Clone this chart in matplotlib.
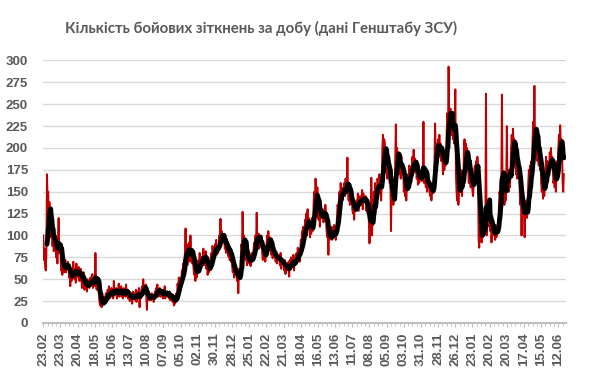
import pandas as pd
import matplotlib
matplotlib.use("Agg")
import matplotlib.pyplot as plt
import matplotlib.dates as mdates

# daily number of combat clashes (General Staff reports), from 23.02.2023
start_date = "2023-02-23"

clashes_2023 = [
    100, 72, 85, 65, 60, 78, 170, 140, 150, 112, 138, 105, 98, 115,
    105, 88, 104, 82, 96, 85, 100, 75, 92, 68, 98, 120, 80, 85,
    82, 60, 70, 55, 72, 64, 58, 68, 72, 58, 66, 62, 70, 64,
    52, 60, 42, 58, 48, 55, 62, 70, 55, 50, 62, 46, 68, 56,
    60, 52, 64, 48, 56, 62, 54, 40, 52, 45, 58, 38, 48, 42,
    44, 36, 50, 42, 48, 40, 46, 52, 44, 48, 56, 40, 46, 50,
    42, 80, 46, 38, 52, 44, 40, 28, 22, 20, 25, 18, 24, 22,
    26, 30, 22, 28, 34, 25, 32, 38, 30, 42, 28, 35, 32, 40,
    30, 36, 28, 48, 32, 38, 34, 40, 28, 36, 32, 45, 30, 38,
    34, 42, 30, 36, 28, 40, 35, 38, 30, 44, 32, 36, 28, 34,
    30, 25, 34, 28, 32, 22, 36, 28, 34, 30, 26, 38, 24, 32,
    36, 30, 40, 18, 34, 28, 38, 42, 36, 50, 34, 40, 38, 44,
    30, 15, 34, 28, 36, 26, 32, 30, 26, 34, 28, 32, 24, 30,
    36, 32, 40, 34, 44, 30, 38, 34, 40, 30, 38, 32, 36, 28,
    38, 30, 42, 28, 34, 32, 36, 30, 34, 28, 36, 26, 32, 30,
    28, 24, 32, 20, 30, 22, 26, 34, 28, 45, 38, 52, 40, 48,
    50, 45, 60, 55, 68, 58, 72, 80, 108, 72, 90, 66, 82, 78,
    92, 70, 100, 75, 84, 68, 78, 62, 55, 70, 48, 64, 52, 58,
    65, 72, 58, 80, 62, 74, 68, 76, 70, 85, 66, 78, 72, 82,
    62, 70, 55, 66, 58, 64, 60, 72, 80, 68, 88, 76, 84, 78,
    90, 82, 95, 78, 88, 80, 86, 100, 92, 119, 88, 105, 96, 102,
    92, 98, 85, 90, 80, 95, 82, 85, 76, 90, 72, 82, 70, 80,
    65, 58, 70, 52,
]

clashes_2024 = [
    62, 55, 60,
    55, 48, 62, 34, 58, 50, 56, 72, 90, 85, 127, 95, 100, 88,
    80, 72, 85, 66, 78, 70, 74, 68, 78, 65, 72, 80, 70, 76,
    85, 92, 80, 100, 88, 126, 95, 90, 102, 85, 98, 92, 88, 95,
    80, 72, 85, 76, 82, 70, 78, 88, 100, 92, 105, 95, 98, 90,
    85, 78, 90, 74, 82, 76, 80, 76, 70, 82, 68, 78, 72, 75,
    72, 66, 80, 62, 74, 68, 70, 66, 60, 72, 56, 68, 62, 64,
    60, 70, 53, 72, 64, 75, 66, 70, 64, 78, 60, 72, 68, 74,
    80, 72, 86, 76, 84, 70, 82, 95, 88, 105, 92, 110, 98, 102,
    118, 108, 125, 100, 130, 112, 120, 108, 98, 115, 102, 120, 105, 112,
    140, 150, 130, 165, 145, 138, 155, 125, 118, 135, 110, 128, 120, 130,
    120, 130, 115, 128, 118, 135, 125, 105, 98, 112, 78, 108, 95, 102,
    98, 110, 95, 105, 100, 112, 102, 100, 95, 108, 120, 135, 130, 140,
    150, 138, 160, 145, 155, 140, 150, 150, 160, 145, 165, 148, 155, 189,
    150, 140, 155, 135, 148, 138, 145, 130, 125, 140, 118, 135, 128, 132,
    140, 132, 148, 128, 145, 135, 142, 145, 135, 152, 130, 148, 140, 138,
    138, 145, 128, 140, 125, 132, 115, 91, 110, 105, 166, 100, 120, 112,
    150, 140, 160, 145, 155, 150, 165, 160, 150, 170, 148, 158, 140, 162,
    200, 215, 190, 210, 205, 180, 195, 180, 165, 190, 170, 185, 160, 175,
    105, 150, 140, 160, 135, 155, 145, 185, 227, 180, 200, 175, 195, 190,
    170, 185, 165, 190, 172, 180, 175, 150, 165, 145, 160, 140, 158, 155,
    170, 160, 180, 165, 178, 168, 175, 190, 175, 198, 180, 188, 172, 185,
    165, 175, 158, 172, 160, 170, 168, 170, 162, 178, 165, 230, 160, 170,
    160, 155, 170, 150, 168, 158, 162, 150, 145, 160, 140, 158, 148, 155,
    165, 185, 228, 195, 205, 190, 200, 210, 195, 215, 190, 205, 185, 200,
    185, 170, 195, 175, 190, 180, 188, 220, 240, 215, 293, 230, 225, 245,
    230, 215, 240, 210, 225, 205, 220, 267, 170, 150, 140, 165, 135,
]

clashes_2025 = [
    155,
    165, 150, 175, 160, 145, 170, 158, 195, 210, 180, 205, 185, 200, 190,
    175, 160, 180, 165, 155, 170, 160, 150, 145, 160, 175, 180, 170, 185,
    175, 190, 180, 95, 86, 110, 100, 105, 92, 115, 98, 120, 100, 112,
    115, 262, 100, 125, 110, 130, 118, 140, 105, 120, 92, 110, 100, 115,
    100, 108, 95, 112, 98, 105, 110, 115, 130, 150, 145, 165, 155, 261,
    160, 145, 170, 135, 150, 140, 155, 225, 160, 175, 150, 165, 155, 170,
    200, 215, 195, 222, 205, 210, 200, 185, 170, 190, 165, 180, 175, 185,
    150, 135, 145, 100, 140, 130, 145, 130, 98, 140, 125, 135, 120, 138,
    160, 175, 155, 180, 165, 185, 170, 210, 230, 205, 271, 200, 215, 220,
    195, 185, 205, 180, 200, 175, 190, 160, 150, 165, 142, 158, 145, 155,
    175, 190, 170, 185, 165, 180, 175, 195, 185, 200, 180, 190, 175, 160,
    165, 155, 170, 150, 175, 185, 180, 200, 215, 195, 226, 205, 210, 200,
    160, 150, 170,
]

title = "Кількість бойових зіткнень за добу (дані Генштабу ЗСУ)"

values = clashes_2023 + clashes_2024 + clashes_2025
dates = pd.date_range(start_date, periods=len(values), freq="D")
daily = pd.Series(values, index=dates)
avg7 = daily.rolling(7).mean()

grey = "#595959"

fig = plt.figure(figsize=(5.9, 3.75), dpi=100)
ax = fig.add_axes([0.0734, 0.1387, 0.8854, 0.7000])

ax.plot(dates, daily, color="#C00000", lw=1.4, zorder=2)
ax.plot(dates, avg7, color="black", lw=3.5, solid_capstyle="round",
        solid_joinstyle="round", zorder=3)

ax.set_xlim(dates[0], dates[0] + pd.Timedelta(days=852))
ax.set_ylim(0, 300)
ax.set_yticks(range(0, 301, 25))
ax.yaxis.grid(True, color="#D9D9D9", lw=1)
ax.set_axisbelow(True)

ax.set_xticks(pd.date_range(start_date, periods=31, freq="28D"))
ax.set_xticks(pd.date_range(start_date, periods=122, freq="7D"), minor=True)
ax.xaxis.set_major_formatter(mdates.DateFormatter("%d.%m"))

for side in ["top", "right", "left"]:
    ax.spines[side].set_visible(False)
ax.spines["bottom"].set_color("#BFBFBF")
ax.spines["bottom"].set_linewidth(1.5)

ax.tick_params(axis="y", length=0, pad=11)
ax.tick_params(axis="x", which="major", length=3, color="#BFBFBF", pad=4)
ax.tick_params(axis="x", which="minor", length=2, color="#BFBFBF")
for lab in ax.get_yticklabels():
    lab.set(fontsize=9.5, fontweight="bold", color=grey, family="Liberation Sans")
for lab in ax.get_xticklabels():
    lab.set(fontsize=9.5, fontweight="bold", color=grey, family="Liberation Sans",
            rotation=90)

fig.text(0.443, 0.925, title, ha="center", va="center", fontsize=10.8,
         fontweight="bold", color=grey, family="Lato")

fig.savefig("out.png", dpi=100)
